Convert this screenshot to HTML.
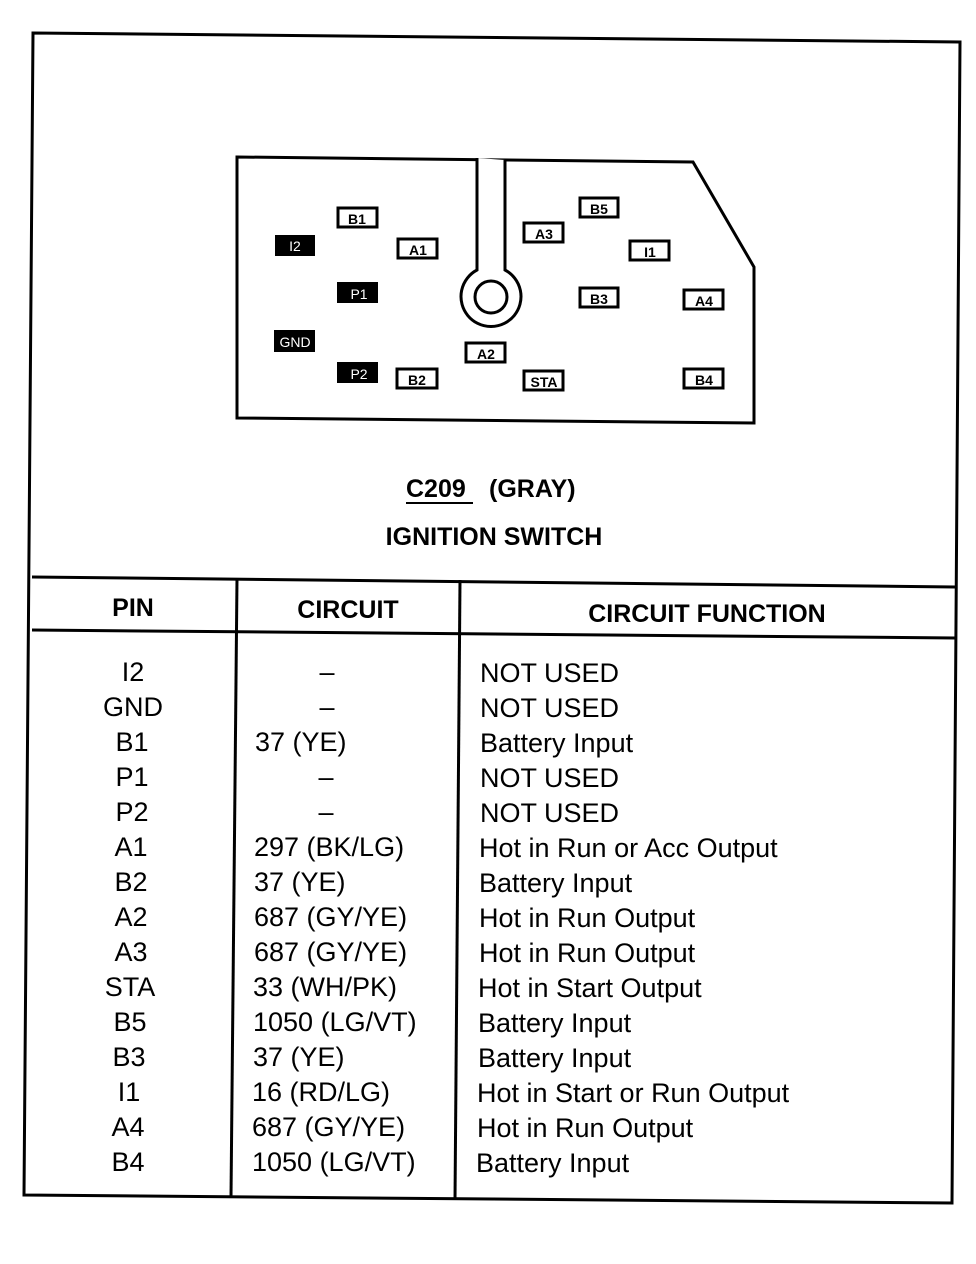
<!DOCTYPE html>
<html><head><style>
html,body{margin:0;padding:0;background:#fff;}
svg{display:block;}
text{font-family:"Liberation Sans",Arial,sans-serif;fill:#000;}
.p{font-size:14px;}
.t{font-size:27px;}
.h{font-size:25px;font-weight:bold;}
</style></head><body>
<svg width="976" height="1264" viewBox="0 0 976 1264" xmlns="http://www.w3.org/2000/svg">
<g fill="none" stroke="#000" stroke-width="3">
<polygon points="33,33 960,42 952,1203 24,1195"/>
<line x1="32" y1="577" x2="955" y2="587"/>
<line x1="32" y1="630" x2="955" y2="638"/>
<line x1="237" y1="578" x2="231" y2="1197"/>
<line x1="460" y1="580" x2="455" y2="1200"/>
<polygon points="237,157 693,162 754,267 754,423 237,418"/>
</g>
<path d="M477,158 L477,270 A30,30 0 1,0 505,270 L505,160" fill="#fff" stroke="#000" stroke-width="3"/>
<circle cx="491" cy="297" r="16" fill="none" stroke="#000" stroke-width="3"/>
<g stroke="#000" stroke-width="3" fill="#fff">
<rect x="338" y="208" width="39" height="19"/>
<rect x="398" y="239" width="39" height="19"/>
<rect x="397" y="369" width="40" height="19"/>
<rect x="466" y="343" width="39" height="19"/>
<rect x="524" y="371" width="39" height="19"/>
<rect x="524" y="223" width="39" height="19"/>
<rect x="580" y="198" width="38" height="19"/>
<rect x="630" y="241" width="39" height="19"/>
<rect x="580" y="288" width="38" height="19"/>
<rect x="684" y="290" width="39" height="19"/>
<rect x="684" y="369" width="39" height="19"/>
</g>
<g fill="#000">
<rect x="275" y="235" width="40" height="21"/>
<rect x="337" y="282" width="41" height="21"/>
<rect x="274" y="330" width="41" height="22"/>
<rect x="337" y="362" width="41" height="21"/>
</g>
<g class="p" text-anchor="middle">
<text x="357" y="224" font-weight="bold">B1</text>
<text x="418" y="255" font-weight="bold">A1</text>
<text x="417" y="385" font-weight="bold">B2</text>
<text x="486" y="359" font-weight="bold">A2</text>
<text x="544" y="387" font-weight="bold">STA</text>
<text x="544" y="239" font-weight="bold">A3</text>
<text x="599" y="214" font-weight="bold">B5</text>
<text x="650" y="257" font-weight="bold">I1</text>
<text x="599" y="304" font-weight="bold">B3</text>
<text x="704" y="306" font-weight="bold">A4</text>
<text x="704" y="385" font-weight="bold">B4</text>
<text x="295" y="251" style="fill:#fff">I2</text>
<text x="359" y="299" style="fill:#fff">P1</text>
<text x="295" y="347" style="fill:#fff">GND</text>
<text x="359" y="379" style="fill:#fff">P2</text>
</g>
<text x="406" y="497" class="h">C209</text>
<line x1="406" y1="503" x2="473" y2="503" stroke="#000" stroke-width="2"/>
<text x="489" y="497" class="h">(GRAY)</text>
<text x="494" y="545" class="h" text-anchor="middle">IGNITION SWITCH</text>
<text x="133" y="616" class="h" text-anchor="middle">PIN</text>
<text x="348" y="618" class="h" text-anchor="middle">CIRCUIT</text>
<text x="707" y="622" class="h" text-anchor="middle">CIRCUIT FUNCTION</text>
<g class="t" text-anchor="middle">
<text x="133" y="681">I2</text>
<text x="133" y="716">GND</text>
<text x="132" y="751">B1</text>
<text x="132" y="786">P1</text>
<text x="132" y="821">P2</text>
<text x="131" y="856">A1</text>
<text x="131" y="891">B2</text>
<text x="131" y="926">A2</text>
<text x="131" y="961">A3</text>
<text x="130" y="996">STA</text>
<text x="130" y="1031">B5</text>
<text x="129" y="1066">B3</text>
<text x="129" y="1101">I1</text>
<text x="128" y="1136">A4</text>
<text x="128" y="1171">B4</text>
<text x="327" y="681">–</text>
<text x="327" y="716">–</text>
<text x="326" y="786">–</text>
<text x="326" y="821">–</text>
</g>
<g class="t">
<text x="255" y="751">37 (YE)</text>
<text x="254" y="856">297 (BK/LG)</text>
<text x="254" y="891">37 (YE)</text>
<text x="254" y="926">687 (GY/YE)</text>
<text x="254" y="961">687 (GY/YE)</text>
<text x="253" y="996">33 (WH/PK)</text>
<text x="253" y="1031">1050 (LG/VT)</text>
<text x="253" y="1066">37 (YE)</text>
<text x="252" y="1101">16 (RD/LG)</text>
<text x="252" y="1136">687 (GY/YE)</text>
<text x="252" y="1171">1050 (LG/VT)</text>
<text x="480" y="682">NOT USED</text>
<text x="480" y="717">NOT USED</text>
<text x="480" y="752">Battery Input</text>
<text x="480" y="787">NOT USED</text>
<text x="480" y="822">NOT USED</text>
<text x="479" y="857">Hot in Run or Acc Output</text>
<text x="479" y="892">Battery Input</text>
<text x="479" y="927">Hot in Run Output</text>
<text x="479" y="962">Hot in Run Output</text>
<text x="478" y="997">Hot in Start Output</text>
<text x="478" y="1032">Battery Input</text>
<text x="478" y="1067">Battery Input</text>
<text x="477" y="1102">Hot in Start or Run Output</text>
<text x="477" y="1137">Hot in Run Output</text>
<text x="476" y="1172">Battery Input</text>
</g>
</svg>
</body></html>
